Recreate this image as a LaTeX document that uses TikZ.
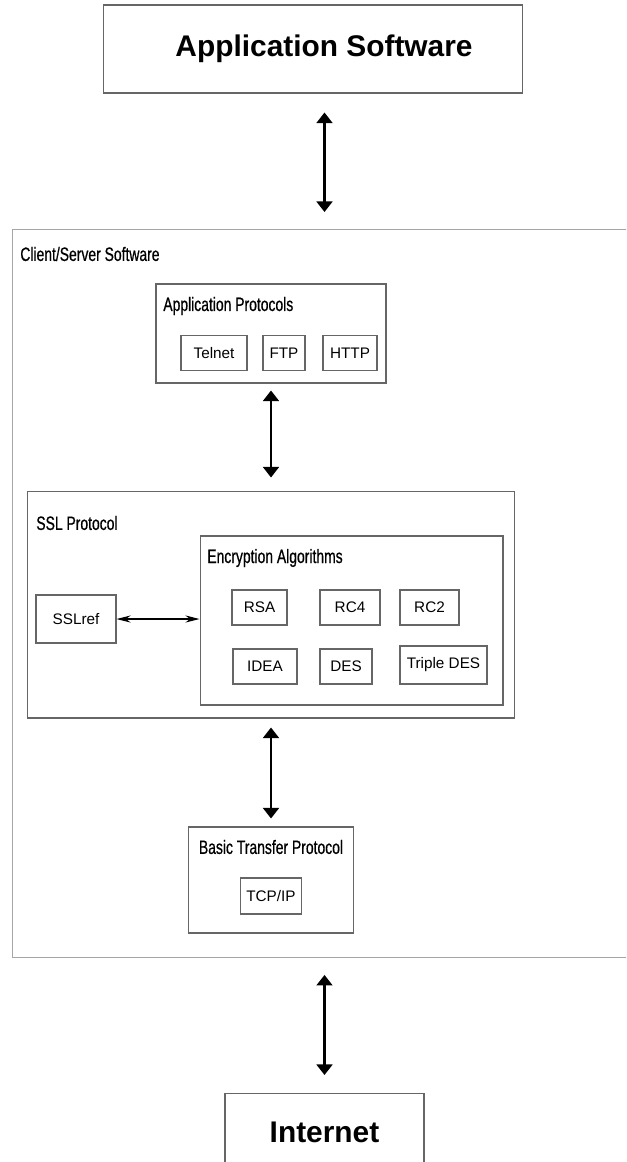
\documentclass[tikz,border=0pt]{standalone}
\usepackage{fontspec}
\setmainfont{Liberation Sans}
\newfontfamily\narrowfont[FakeStretch=0.72,FakeBold=0.6]{Liberation Sans}
\usetikzlibrary{arrows.meta}

\begin{document}
\begin{tikzpicture}[x=0.02cm,y=-0.02cm,
    box/.style={draw=black!60,line width=0.6pt,inner sep=0pt},
    item/.style={box,minimum height=0.7cm,font=\fontsize{8.7}{10}\selectfont},
    ttl/.style={anchor=west,inner sep=0pt,font=\narrowfont\fontsize{11}{13}\selectfont},
    big/.style={font=\fontsize{17}{20}\selectfont\bfseries},
    link/.style={{Triangle[width=9pt,length=6pt]}-{Triangle[width=9pt,length=6pt]},line width=1.3pt}]
    \useasboundingbox (0,0) rectangle (626,1162);
    \clip (0,0) rectangle (626,1162);

    \node[box,minimum width=8.4cm,minimum height=1.76cm,label={[big,xshift=0.22cm]center:Application Software}] (appsw) at (313,49) {};

    \node[box,draw=black!35,anchor=north west,minimum width=12.6cm,minimum height=14.56cm] (client) at (12,229) {};
    \node[ttl] (clientttl) at (20,254) {Client/Server Software};

    \node[box,minimum width=4.6cm,minimum height=1.98cm] (approt) at (271,333.5) {};
    \node[ttl] (approtttl) at (163,306) {Application Protocols};
    \node[item,minimum width=1.32cm] (telnet) at (214,353) {Telnet};
    \node[item,minimum width=0.84cm] (ftp) at (284,353) {FTP};
    \node[item,minimum width=1.08cm] (http) at (350,353) {HTTP};

    \node[box,minimum width=9.76cm,minimum height=4.54cm] (ssl) at (271,604.5) {};
    \node[ttl] (sslttl) at (36,523) {SSL Protocol};
    \node[item,minimum width=1.6cm,minimum height=0.96cm] (sslref) at (76,619) {SSLref};
    \node[box,minimum width=6.06cm,minimum height=3.38cm] (enc) at (351.5,620.5) {};
    \node[ttl] (encttl) at (207,558) {Encryption Algorithms};
    \node[item,minimum width=1.1cm] (rsa) at (259.5,607.5) {RSA};
    \node[item,minimum width=1.2cm] (rc4) at (350,607.5) {RC4};
    \node[item,minimum width=1.18cm] (rc2) at (429.5,607.5) {RC2};
    \node[item,minimum width=1.28cm] (idea) at (265,666.5) {IDEA};
    \node[item,minimum width=1.04cm] (des) at (346,666.5) {DES};
    \node[item,minimum width=1.74cm,minimum height=0.76cm] (tdes) at (443.5,665) {Triple DES};

    \node[box,minimum width=3.3cm,minimum height=2.12cm] (basic) at (271,880) {};
    \node[ttl,anchor=center] (basicttl) at (271,847) {Basic Transfer Protocol};
    \node[item,minimum width=1.22cm,minimum height=0.72cm] (tcpip) at (271,896) {TCP/IP};

    \node[box,big,anchor=north,minimum width=3.98cm,minimum height=1.56cm] (internet) at (324.5,1093) {Internet};

    \draw[link,shorten <=0.38cm,shorten >=0.34cm] (appsw.south -| internet) -- (client.north -| internet);
    \draw[link,shorten <=0.14cm,shorten >=0.26cm] (approt.south) -- (ssl.north);
    \draw[{Stealth[length=8pt,width=4pt]}-{Stealth[length=8pt,width=4pt]},line width=0.6pt] (sslref.east) -- (sslref.east -| enc.west);
    \draw[link,shorten <=0.18cm,shorten >=0.16cm] (ssl.south) -- (basic.north);
    \draw[link,shorten <=0.34cm,shorten >=0.36cm] (client.south -| internet) -- (internet.north);
\end{tikzpicture}
\end{document}
